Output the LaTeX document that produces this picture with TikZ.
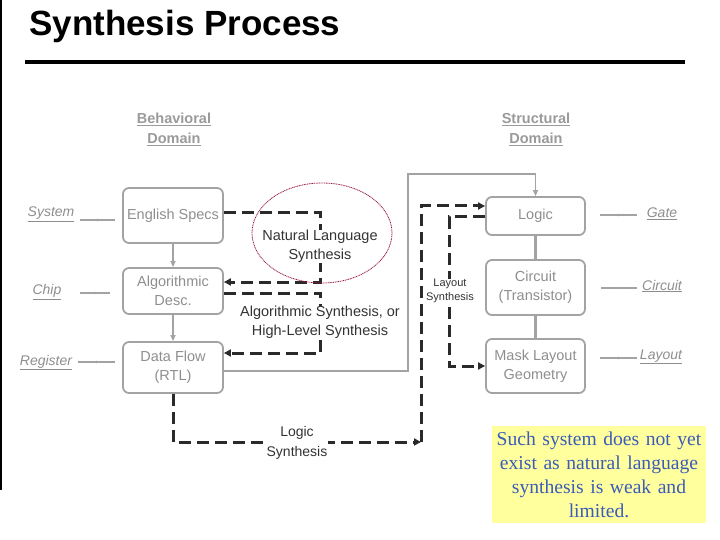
\documentclass[tikz,border=0pt]{standalone}
\usepackage{fontspec}
\setmainfont{Liberation Sans}
\newfontfamily\noteserif{Liberation Serif}
\usetikzlibrary{arrows.meta,shapes.geometric,calc}

\definecolor{boxgray}{HTML}{A3A3A3}
\definecolor{txtgray}{HTML}{8E8E8E}
\definecolor{domgray}{HTML}{9A9A9A}
\definecolor{dashblk}{HTML}{2A2A2A}
\definecolor{lblblk}{HTML}{333333}
\definecolor{ellred}{HTML}{98183F}
\definecolor{noteyellow}{HTML}{FFFF9E}
\definecolor{noteblue}{HTML}{3B5CB8}

\begin{document}
\begin{tikzpicture}[x=1pt,y=-1pt,
  blk/.style={draw=boxgray, line width=1.8pt, rounded corners=6pt,
    minimum width=100pt, text=txtgray, align=center,
    font=\fontsize{14.5}{19}\selectfont, inner sep=0pt},
  domhead/.style={text=domgray, align=center, font=\bfseries\fontsize{14.5}{20}\selectfont},
  sidelbl/.style={text=txtgray, font=\itshape\fontsize{14}{17}\selectfont, inner sep=0pt},
  sideline/.style={draw=boxgray, line width=1.3pt},
  tickmark/.style={circle, fill=boxgray, inner sep=0.9pt},
  grayarrow/.style={draw=boxgray, line width=1.5pt, -{Triangle[length=6pt,width=5pt]}},
  grayconn/.style={draw=boxgray, line width=3pt},
  dashconn/.style={draw=dashblk, line width=3pt, dash pattern=on 12pt off 6pt},
  dashtip/.style={-{Triangle[length=7pt,width=7pt]}},
  synlbl/.style={fill=white, text=lblblk, align=center, inner sep=0.5pt,
    font=\fontsize{14.5}{19}\selectfont},
]
\useasboundingbox (0,0) rectangle (720,540);

% left edge rule and title
\draw[line width=2pt] (1,0) -- (1,490);
\node[anchor=base west, inner sep=0pt, font=\bfseries\fontsize{35}{40}\selectfont] (title) at (29,36) {Synthesis Process};
\draw[line width=4pt] (25,62) -- (685,62);

% domain headings
\node[domhead] (beh) at (174,129.5) {\underline{Behavioral}\\\underline{Domain}};
\node[domhead] (str) at (536,129.5) {\underline{Structural}\\\underline{Domain}};

% behavioral boxes
\node[blk, minimum height=55pt] (eng) at (173,215.5) {English Specs};
\node[blk, minimum height=46pt] (alg) at (173,291) {Algorithmic\\Desc.};
\node[blk, minimum height=51pt] (df) at (173,367.5) {Data Flow\\(RTL)};

% structural boxes
\node[blk, minimum width=99pt, minimum height=38pt] (logic) at (535.5,216) {Logic};
\node[blk, minimum width=99pt, minimum height=55pt] (circ) at (535.5,287.5) {Circuit\\(Transistor)};
\node[blk, minimum width=99pt, minimum height=54pt] (mask) at (535.5,366) {Mask Layout\\Geometry};

% gray connectors
\draw[grayarrow] (eng.south) -- (alg.north);
\draw[grayarrow] (alg.south) -- (df.north);
\draw[grayconn] (logic.south) -- (circ.north);
\draw[grayconn] (circ.south) -- (mask.north);
\coordinate (bendA) at (408,174);
\draw[grayarrow, line width=1.3pt] ($(df.east)+(0,3.5)$) -| (bendA) -| (logic.north);

% side labels
\node[sidelbl] (sys) at (51,214.5) {\underline{System}};
\node[sidelbl] (chip) at (47,292) {\underline{Chip}};
\node[sidelbl] (reg) at (46,362.5) {\underline{Register}};
\node[sidelbl] (gate) at (662,214) {\underline{Gate}};
\node[sidelbl] (circl) at (662,286) {\underline{Circuit}};
\node[sidelbl] (lay) at (661,357) {\underline{Layout}};

\coordinate (sa) at (80,220);  \coordinate (sb) at (115,220);
\coordinate (ca) at (80,293);  \coordinate (cb) at (110,293);
\coordinate (ra) at (78,362);  \coordinate (rb) at (115,362);
\coordinate (ga) at (600,215); \coordinate (gb) at (637,215);
\coordinate (ka) at (601,288); \coordinate (kb) at (637,288);
\coordinate (la) at (600,358); \coordinate (lb) at (637,358);
\draw[sideline] (sa) -- node[tickmark]{} (sb);
\draw[sideline] (ca) -- node[tickmark]{} (cb);
\draw[sideline] (ra) -- node[tickmark]{} (rb);
\draw[sideline] (ga) -- node[tickmark]{} (gb);
\draw[sideline] (ka) -- node[tickmark]{} (kb);
\draw[sideline] (la) -- node[tickmark]{} (lb);

% dashed synthesis paths
\draw[dashconn, dashtip] ($(eng.east)+(0,-2.5)$) -| ($(alg.east)+(97,-9)$) -- ($(alg.east)+(0,-9)$);
\draw[dashconn, dashtip] ($(alg.east)+(0,2)$) -| ($(df.east)+(97,-14.5)$) -- ($(df.east)+(0,-14.5)$);
\coordinate (lsyn) at (421,442);
\draw[dashconn, dashtip] (df.south) |- (lsyn);
\draw[dashconn, dashtip] (lsyn) |- ($(logic.west)+(0,-10)$);
\draw[dashconn, dashtip] ($(logic.west)+(0,1)$) -| ($(mask.west)+(-36,0)$) -- (mask.west);

% synthesis labels
\node[synlbl] (nls) at (320,246.5) {Natural Language\\Synthesis};
\node[synlbl] (als) at (320,322.5) {Algorithmic Synthesis, or\\High-Level Synthesis};
\node[synlbl, font=\fontsize{14}{20}\selectfont] (lgs) at (297,443) {Logic\\Synthesis};
\node[synlbl, font=\fontsize{11}{14}\selectfont] (lys) at (450,291) {Layout\\Synthesis};

% ellipse around natural language synthesis
\node[ellipse, draw=ellred, line width=0.8pt, dash pattern=on 1pt off 0.7pt,
  minimum width=140pt, minimum height=100pt, inner sep=0pt] (ell) at (322,233) {};

% note
\node[fill=noteyellow, minimum width=214pt, minimum height=97pt, text width=210pt,
  align=center, inner sep=0pt, text=noteblue,
  font=\noteserif\fontsize{19.6}{24}\selectfont] (note) at (599,474.5)
  {Such system does not yet\\exist as natural language\\synthesis is weak and\\limited.};
\end{tikzpicture}
\end{document}
